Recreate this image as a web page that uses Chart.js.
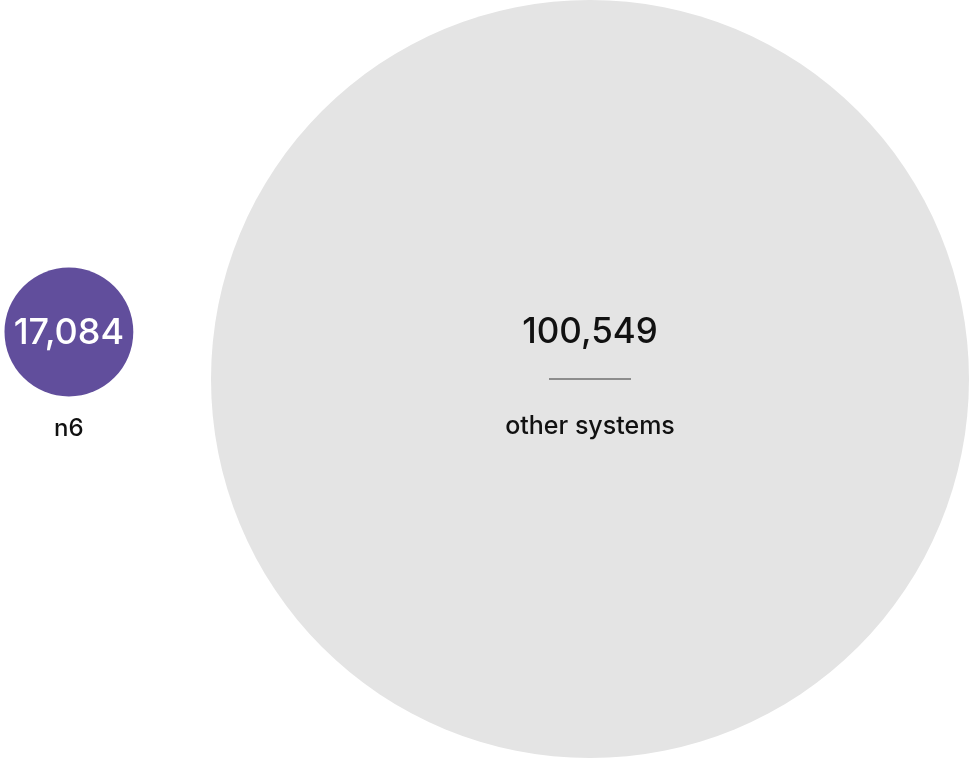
<!DOCTYPE html>
<html>
<head>
<meta charset="utf-8">
<script src="https://cdn.jsdelivr.net/npm/chart.js@4/dist/chart.umd.min.js"></script>
<style>
  html, body { margin: 0; padding: 0; background: #fff; }
  #wrap { width: 970px; height: 758px; position: relative; }
</style>
</head>
<body>
<div id="wrap"><canvas id="chart"></canvas></div>
<script>
// data
const labels = ["n6", "other systems"];
const values = [17084, 100549];
const colors = ["#614e9c", "#e4e4e4"];

const W = 970, H = 758;
const maxR = H / 2;                       // largest circle fills the height
const maxVal = Math.max(...values);
const radii = values.map(v => v / maxVal * maxR);

// layout: small circle at the left edge, big one at the right edge
const points = values.map((v, i) => {
  const r = radii[i];
  if (i === values.length - 1) return { x: W - r - 1, y: H / 2, r: r };
  return { x: r + 4.5, y: H / 2 - 47, r: r };
});

const fmt = n => n.toLocaleString("en-US");
const FONT = "Inter, 'Noto Sans', sans-serif";

const labelPlugin = {
  id: "circleLabels",
  afterDatasetsDraw(chart) {
    const ctx = chart.ctx;
    const meta = chart.getDatasetMeta(0);
    ctx.save();
    ctx.textAlign = "center";
    ctx.textBaseline = "alphabetic";
    meta.data.forEach((el, i) => {
      const big = i === values.length - 1;
      if (big) {
        ctx.fillStyle = "#111111";
        ctx.font = "450 35px " + FONT;
        ctx.fillText(fmt(values[i]), el.x, el.y - 36);
        ctx.strokeStyle = "#6f6f6f";
        ctx.lineWidth = 1.5;
        ctx.beginPath();
        ctx.moveTo(el.x - 41, el.y);
        ctx.lineTo(el.x + 41, el.y);
        ctx.stroke();
        ctx.font = "500 25px " + FONT;
        ctx.fillText(labels[i], el.x, el.y + 55);
      } else {
        ctx.fillStyle = "#ffffff";
        ctx.font = "450 36px " + FONT;
        ctx.fillText(fmt(values[i]), el.x, el.y + 12);
        ctx.fillStyle = "#111111";
        ctx.font = "500 24px " + FONT;
        ctx.fillText(labels[i], el.x, el.y + 104);
      }
    });
    ctx.restore();
  }
};

new Chart(document.getElementById("chart"), {
  type: "bubble",
  data: {
    labels: labels,
    datasets: [{
      data: points,
      backgroundColor: colors,
      hoverBackgroundColor: colors,
      borderWidth: 0,
      hoverBorderWidth: 0,
      hoverRadius: 0,
      clip: false
    }]
  },
  options: {
    responsive: true,
    maintainAspectRatio: false,
    animation: false,
    layout: { padding: 0, autoPadding: false },
    plugins: { legend: { display: false }, tooltip: { enabled: false } },
    events: [],
    scales: {
      x: { type: "linear", min: 0, max: W, display: false },
      y: { type: "linear", min: 0, max: H, reverse: true, display: false }
    }
  },
  plugins: [labelPlugin]
});
</script>
</body>
</html>
